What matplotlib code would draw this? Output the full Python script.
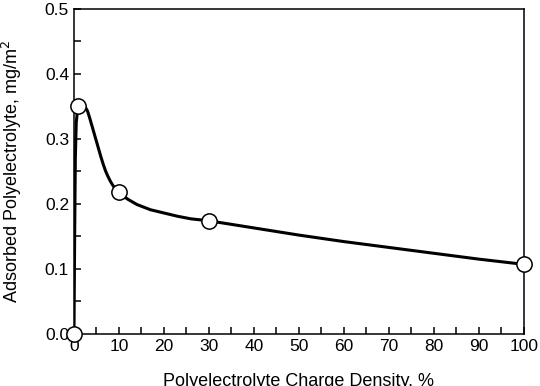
import numpy as np
import matplotlib.pyplot as plt
from matplotlib.ticker import MultipleLocator, FormatStrFormatter

plt.rcParams['font.family'] = ['Liberation Sans', 'DejaVu Sans']

# measured points (markers)
charge = [0, 1, 10, 30, 100]
adsorbed = [0.0, 0.35, 0.218, 0.174, 0.107]

# smooth guide curve
curve_x = [0, 0.15, 0.3, 0.5, 0.8, 1.2, 1.8, 2.5, 3, 3.5, 4, 4.5, 5, 5.5, 6, 6.5,
           7, 7.5, 8, 8.5, 9, 9.5, 10, 11, 12, 14, 17, 20, 23, 26, 30,
           40, 50, 60, 70, 80, 90, 100]
curve_y = [0.0, 0.15, 0.27, 0.325, 0.345, 0.351, 0.353, 0.349, 0.343, 0.332,
           0.32, 0.308, 0.296, 0.284, 0.272, 0.261, 0.251, 0.243, 0.236, 0.230,
           0.225, 0.221, 0.218, 0.212, 0.207, 0.199, 0.191, 0.186, 0.181, 0.177,
           0.174, 0.163, 0.152, 0.142, 0.133, 0.124, 0.115, 0.107]

fig = plt.figure(figsize=(5.4, 3.86), dpi=100)
ax = fig.add_axes([0.137, 0.135, 0.833, 0.842])

ax.plot(curve_x, curve_y, color='black', lw=2.2, solid_joinstyle='round',
        solid_capstyle='round', zorder=2)
ax.plot(charge, adsorbed, 'o', ms=11, mfc='white', mec='black', mew=1.1,
        clip_on=False, zorder=3)

ax.set_xlim(0, 100)
ax.set_ylim(0, 0.5)
ax.xaxis.set_major_locator(MultipleLocator(10))
ax.xaxis.set_minor_locator(MultipleLocator(5))
ax.yaxis.set_major_locator(MultipleLocator(0.1))
ax.yaxis.set_minor_locator(MultipleLocator(0.05))
ax.yaxis.set_major_formatter(FormatStrFormatter('%.1f'))
ax.tick_params(which='both', direction='in', length=5, width=1.1,
               labelsize=12.5, top=False, right=False)
for s in ax.spines.values():
    s.set_linewidth(1.1)

ax.set_xlabel('Polyelectrolyte Charge Density, %', fontsize=13, labelpad=14)
ax.set_ylabel('Adsorbed Polyelectrolyte, mg/m$^2$', fontsize=13, labelpad=15)

fig.savefig('out.png', dpi=100)
